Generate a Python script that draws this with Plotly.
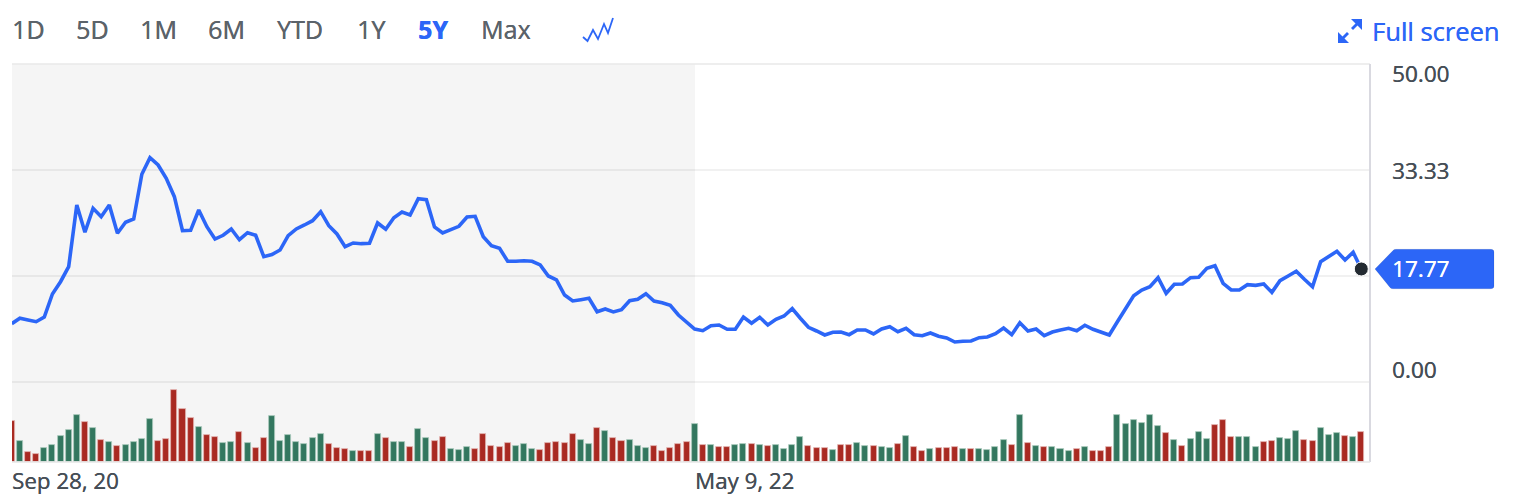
import plotly.graph_objects as go
import pandas as pd

START_DATE = "2020-09-28"
WEEKS = 167
dates = pd.date_range(START_DATE, periods=WEEKS, freq="7D")

price = [
 9.17,10.02,9.75,9.48,10.22,13.84,15.77,18.13,27.83,23.54,27.31,25.99,27.83,23.38,25.11,25.63,32.66,35.27,34.12,32.03,
 29.14,23.79,23.85,27.04,24.42,22.48,23.07,24.06,22.37,23.47,23.07,19.70,20.05,20.75,23.00,24.06,24.69,25.36,26.78,24.58,
 23.27,21.27,21.86,21.75,21.81,25.00,24.01,25.83,26.73,26.26,28.82,28.66,24.37,23.43,23.95,24.48,25.94,26.05,22.85,21.43,
 21.02,18.98,18.98,19.07,18.98,18.40,16.67,16.04,13.68,12.74,12.94,13.16,11.05,11.48,11.01,11.37,12.78,13.00,13.88,12.74,
 12.47,12.06,10.53,9.48,8.33,8.07,8.85,8.96,8.29,8.29,10.22,9.23,10.17,8.96,9.86,10.38,11.53,10.02,8.60,8.02,
 7.39,7.81,7.86,7.44,8.18,8.18,7.55,8.33,8.70,7.91,8.44,7.44,7.28,7.70,7.19,6.92,6.29,6.40,6.45,6.97,
 7.08,7.59,8.49,7.44,9.32,8.02,8.33,7.28,7.86,8.18,8.44,8.07,8.92,8.29,7.86,7.39,9.48,11.59,13.57,14.47,
 14.98,16.40,13.95,15.36,15.41,16.40,16.46,17.88,18.29,15.52,14.47,14.47,15.30,15.20,15.41,14.10,15.93,16.67,17.41,16.15,
 14.98,18.92,19.70,20.55,19.18,20.39,17.77]

volume = [
 40.7,20.7,9.7,8.3,14.3,17.3,26.3,32,46.7,39.7,34.3,22.3,20,16.3,16.7,20.3,23,43,21,23.3,
 71.7,53.3,44.3,34.7,26.7,25,19.3,20,29.7,19.3,14,24.3,46.3,20.7,27,20,18.3,24,28,17.7,
 14.3,13.3,11.3,10.7,10.7,27.7,24.3,19.7,20.3,15.3,33.3,23.7,21.3,25.3,13,12.3,15,13.3,28.3,16,
 15,19.3,16.3,17.7,13.3,12.3,19.3,20.3,19,27.7,21.7,17.7,34.3,31.3,24,21,21.7,16,14.3,16.3,
 10.7,14.3,17.7,19.7,37.7,17.3,17,14.7,14.7,17,18.3,17.7,16.7,16,17.3,13.3,17.3,25.3,16,14.3,
 14.3,12,16.7,16.7,19,15.7,15.7,14.7,13.7,17.7,26,15.3,10.7,12.7,13.7,14,14.7,13.3,12.7,13.3,
 12,14.7,22,17.3,46.7,19.3,16.3,15.3,15.3,12.7,10.7,12.7,15.3,11,11.3,14.7,47,37.7,42.5,38.8,
 47.5,36,29.3,22.3,15.8,23.5,29.7,22.7,36.7,41.7,24.7,24.7,24.7,15.3,20,20.7,24,22.7,30.7,22,
 20.7,33.7,27,29,25.7,24.7,30.3]

# weeks whose volume bar is green; all the others are red
up_weeks = {1,4,5,6,7,8,10,12,14,15,16,17,23,26,27,29,32,33,34,35,36,37,38,42,45,47,48,50,51,54,55,56,62,63,64,70,71,73,
            76,77,78,84,86,89,90,92,94,95,96,97,101,104,105,107,108,110,113,117,119,120,121,122,124,126,128,129,130,132,
            136,137,138,139,140,141,143,145,146,147,151,152,153,156,157,158,161,162,163,165}

y_ticks = [0, 16.67, 33.33, 50]
y_labels = {50: "50.00", 33.33: "33.33", 0: "0.00"}
range_buttons = ["1D", "5D", "1M", "6M", "YTD", "1Y", "5Y", "Max"]
last_label = "17.77"
x_labels = ["Sep 28, 20", "May 9, 22"]
footnote = "Trade prices are not sourced from all markets"

BLUE = "#2c66f7"
GREY = "#464e56"
FONT = "Open Sans"
L, R, T, B = 12, 1370, 64, 462


def px(x):
    return (x - L) / (R - L)


def py(y):
    return (B - y) / (B - T)


def pt(x, y):
    return f"{px(x):.5f},{py(y):.5f}"


def path(points):
    return "M " + " L ".join(pt(x, y) for x, y in points)


def font(size, color):
    return dict(family=FONT, size=size, color=color, shadow=f"0.35px 0 0 {color}")


fill = {True: "#33775f", False: "#a92a22"}
edge = {True: "#a9c9bd", False: "#e2b5b2"}
is_up = [i in up_weeks for i in range(WEEKS)]

fig = go.Figure()
fig.add_trace(go.Bar(
    x=dates, y=volume, yaxis="y2", width=7 * 86400000 * 0.74,
    marker=dict(color=[fill[u] for u in is_up], line=dict(color=[edge[u] for u in is_up], width=0.8)),
    showlegend=False, hoverinfo="skip"))
fig.add_trace(go.Scatter(
    x=dates, y=price, mode="lines", line=dict(color=BLUE, width=3.6), showlegend=False))
fig.add_trace(go.Scatter(
    x=[dates[-1]], y=[price[-1]], mode="markers",
    marker=dict(color="#232a31", size=14, line=dict(color="white", width=1)),
    showlegend=False, cliponaxis=False))

tag = ("M " + pt(1375, 269) + " L " + pt(1393, 250.5) + " Q " + pt(1394, 249.3) + " " + pt(1396, 249.3)
       + " L " + pt(1491, 249.3) + " Q " + pt(1494, 249.3) + " " + pt(1494, 252)
       + " L " + pt(1494, 286) + " Q " + pt(1494, 288.8) + " " + pt(1491, 288.8)
       + " L " + pt(1393, 288.8) + " Q " + pt(1391, 288.8) + " " + pt(1390, 287.5) + " Z")

shapes = [
    dict(type="rect", xref="paper", yref="paper", x0=0, x1=px(695), y0=0, y1=1,
         fillcolor="#f5f5f5", line_width=0, layer="below"),
    dict(type="line", xref="paper", yref="paper", x0=0, x1=1, y0=1, y1=1,
         line=dict(color="#e8e8e8", width=1.5)),
    dict(type="line", xref="paper", yref="paper", x0=1, x1=1, y0=0, y1=1,
         line=dict(color="#d9d9e0", width=2)),
    dict(type="line", xref="paper", yref="paper", x0=0, x1=1, y0=0, y1=0,
         line=dict(color="#e6e6e6", width=1.5)),
    # price tag
    dict(type="path", xref="paper", yref="paper", fillcolor=BLUE, line=dict(color="rgba(0,0,0,0.08)", width=1),
         path=tag),
    # chart type icon
    dict(type="path", xref="paper", yref="paper", line=dict(color=BLUE, width=1.8),
         path=path([(583, 37), (587.5, 41), (593, 30), (598, 39), (604, 24), (608, 33), (613, 18)])),
    # full screen icon
    dict(type="line", xref="paper", yref="paper", x0=px(1352), x1=px(1358), y0=py(29), y1=py(23),
         line=dict(color=BLUE, width=2.8)),
    dict(type="line", xref="paper", yref="paper", x0=px(1342), x1=px(1348), y0=py(39), y1=py(33),
         line=dict(color=BLUE, width=2.8)),
    dict(type="path", xref="paper", yref="paper", fillcolor=BLUE, line_width=0,
         path=path([(1362, 19), (1351, 19), (1362, 30)]) + " Z"),
    dict(type="path", xref="paper", yref="paper", fillcolor=BLUE, line_width=0,
         path=path([(1338, 43), (1349, 43), (1338, 32)]) + " Z"),
]

ann = []
btn_x = [12, 76, 140, 208, 277, 357, 418, 481]
for name, x in zip(range_buttons, btn_x):
    active = name == "5Y"
    ann.append(dict(xref="paper", yref="paper", x=px(x), y=py(28.5), text=f"<b>{name}</b>" if active else name,
                    showarrow=False, xanchor="left", yanchor="middle", xshift=-2,
                    font=font(25, BLUE if active else "#5b636a")))
ann.append(dict(xref="paper", yref="paper", x=px(1372), y=py(31.5), text="Full screen", showarrow=False,
                xanchor="left", yanchor="middle", xshift=-2, font=font(25.5, BLUE)))
for val, shift in ((50, -9), (33.33, 0), (0, 12)):
    ann.append(dict(xref="paper", yref="y", x=1, y=val, xshift=20, yshift=shift, text=y_labels[val],
                    showarrow=False, xanchor="left", yanchor="middle", font=font(22.5, GREY)))
ann.append(dict(xref="paper", yref="y", x=1, y=price[-1], xshift=20, yshift=0, text=last_label, showarrow=False,
                xanchor="left", yanchor="middle", font=font(22.5, "#ffffff")))
for text, x in zip(x_labels, (12, 695)):
    ann.append(dict(xref="paper", yref="paper", x=px(x), y=py(480), text=text, showarrow=False, xanchor="left",
                    yanchor="middle", xshift=-2, font=font(22.3, GREY)))
ann.append(dict(xref="paper", yref="paper", x=px(1048), y=py(510), text=footnote,
                showarrow=False, xanchor="left", yanchor="middle", xshift=-2,
                font=dict(family=FONT, size=22, color="#5b636a")))

fig.update_layout(
    width=1522, height=502, autosize=False,
    margin=dict(l=L, r=1522 - R, t=T, b=502 - B, pad=0),
    plot_bgcolor="rgba(0,0,0,0)", paper_bgcolor="white",
    showlegend=False, bargap=0, shapes=shapes, annotations=ann,
    xaxis=dict(type="date",
               range=[dates[0] + pd.Timedelta(days=0.2), dates[0] + pd.Timedelta(days=1169.5)],
               showgrid=False, zeroline=False, showticklabels=False, ticks="", fixedrange=True),
    yaxis=dict(range=[-12.58, 50], tickvals=y_ticks, showticklabels=False, ticks="",
               showgrid=True, gridcolor="rgba(0,0,0,0.055)", gridwidth=1.6, zeroline=False),
    yaxis2=dict(range=[0, 398], overlaying="y", visible=False),
)

fig.write_html("out.html", config=dict(displayModeBar=False),
               post_script="document.body.style.margin='0';document.body.style.overflow='hidden';")
